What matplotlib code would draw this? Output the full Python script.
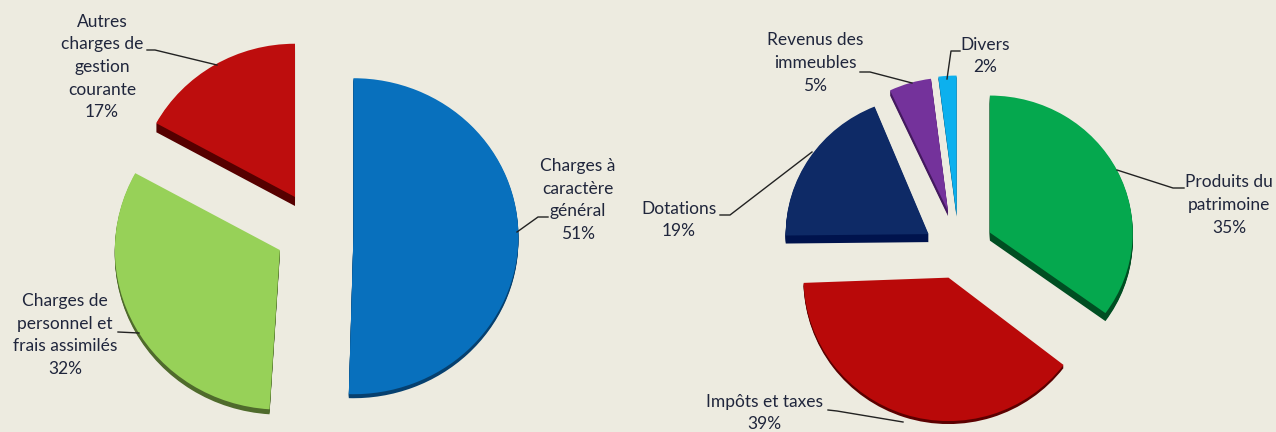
import matplotlib
matplotlib.use("Agg")
import matplotlib.pyplot as plt
from matplotlib.transforms import Affine2D

# --- data ---
left_labels = ["Charges à\ncaractère\ngénéral", "Charges de\npersonnel et\nfrais assimilés", "Autres\ncharges de\ngestion\ncourante"]
left_values = [51, 32, 17]
right_labels = ["Produits du\npatrimoine", "Impôts et taxes", "Dotations", "Revenus des\nimmeubles", "Divers"]
right_values = [35, 39, 19, 5, 2]

# --- style ---
BG = "#edebe0"
INK = "#20263c"
left_style = dict(center=(313, 235), rx=165, ry=158,
                  explode=[0.245, 0.25, 0.25],
                  colors=["#0870bd", "#97d158", "#bd0d0d"],
                  dark=["#06406f", "#4f6b2c", "#560000"],
                  depth=[4, 5, 9],
                  nudge=[(0, 0), (3, -4), (3, -4)],
                  scale=[(1, 1), (1, 1.01), (0.96, 0.97)],
                  turn=[0, 0, 0],
                  trim=[2, 0, 0])
right_style = dict(center=(955, 250), rx=145, ry=142,
                   explode=[0.27, 0.21, 0.22, 0.27, 0.27],
                   colors=["#05a84e", "#b90909", "#0e2a66", "#74329b", "#0cb0ee"],
                   dark=["#004e22", "#5c0000", "#00134d", "#44195f", "#06608a"],
                   depth=[8, 3, 8, 5, 2],
                   nudge=[(0, 0), (2, -1), (1, 0), (4, -2), (4, 3)],
                   scale=[(0.985, 0.965), (1, 1.01), (0.985, 0.97), (0.94, 0.94), (1, 0.98)],
                   turn=[0, -1.5, -3, 0, 0],
                   trim=[0, 0, 0, 0, 0])
left_text = [(578, 200), (65, 335), (102, 67)]
right_text = [(1229, 205), (764, 413), (679, 220), (815, 63), (985, 56)]
leaders = [
    [(517, 232), (538, 217), (548, 217)],
    [(118, 332), (139, 333)],
    [(147, 50), (155, 50), (217, 65)],
    [(1117, 170), (1173, 188), (1184, 188)],
    [(828, 410), (837, 411), (903, 422)],
    [(720, 215), (730, 215), (812, 152)],
    [(860, 72), (870, 72), (912, 83)],
    [(960, 51), (951, 51), (947, 79)],
]

fig = plt.figure(figsize=(12.76, 4.32), dpi=100, facecolor=BG)
ax = fig.add_axes([0, 0, 1, 1])


def slice_transform(st, i, w, lift):
    cx, cy = st["center"]
    c = w.center
    sx, sy = st["scale"][i]
    nx, ny = st["nudge"][i]
    return (Affine2D().translate(-c[0], -c[1]).rotate_deg(st["turn"][i])
            .scale(st["rx"] * sx, -st["ry"] * sy)
            .translate(c[0] * st["rx"] + cx + nx, -c[1] * st["ry"] + cy + ny + lift)
            + ax.transData)


def draw(values, st):
    for lift in range(max(st["depth"]), -1, -1):
        cols = st["colors"] if lift == 0 else st["dark"]
        wedges, _ = ax.pie(values, explode=st["explode"], colors=cols,
                           startangle=90, counterclock=False, radius=1, normalize=True)
        for i, w in enumerate(wedges):
            if lift > st["depth"][i]:
                w.set_visible(False)
            if st["trim"][i]:
                w.set_theta1(w.theta1 + st["trim"][i])
            w.set_transform(slice_transform(st, i, w, lift))


draw(left_values, left_style)
draw(right_values, right_style)

ax.set_aspect("auto")
ax.set_xlim(0, 1276)
ax.set_ylim(432, 0)
ax.axis("off")

for pts in leaders:
    ax.plot([p[0] for p in pts], [p[1] for p in pts], color="#222222", lw=1.0, zorder=3)

for labels, values, pos in [(left_labels, left_values, left_text), (right_labels, right_values, right_text)]:
    for lab, val, (x, y) in zip(labels, values, pos):
        ax.text(x, y, f"{lab}\n{val}%", ha="center", va="center", family="Lato",
                fontsize=12.5, color=INK, linespacing=1.51, zorder=4, clip_on=False)

fig.savefig("out.png", dpi=100, facecolor=BG)
